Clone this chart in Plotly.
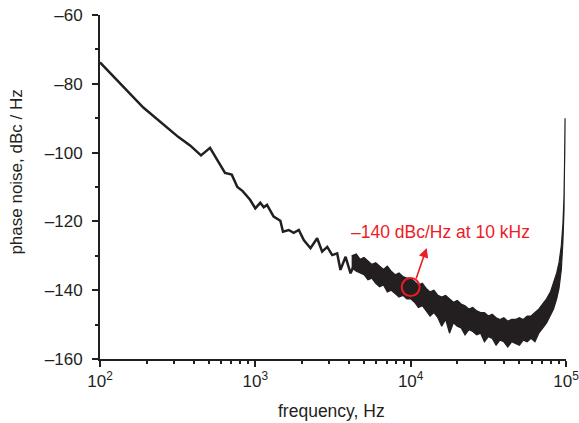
import plotly.graph_objects as go

# clean (low-frequency) part of the trace
freq_clean = [100, 190, 320, 380, 447, 511, 638, 705, 766, 829, 925, 1000, 1076, 1132,
              1189, 1312, 1449, 1507, 1641, 1766, 1905, 2051, 2265, 2500, 2692, 2904,
              3126, 3365, 3532, 3811, 4102, 4416]
pn_clean = [-73.8, -86.9, -95.5, -97.9, -100.8, -98.6, -105.9, -106.4, -110.0, -111.2,
            -113.7, -116.2, -114.6, -115.9, -115.2, -118.6, -119.8, -123.0, -122.5,
            -123.3, -122.5, -125.4, -127.8, -124.9, -128.8, -127.4, -129.8, -129.3,
            -134.1, -130.3, -135.1, -131.7]

# noisy band (upper / lower envelope) at higher offsets
freq_band = [4169, 4467, 4732, 5012, 5309, 5623, 5957, 6310, 6683, 7079, 7499, 7943,
             8414, 8913, 9441, 10000, 10593, 11220, 11885, 12589, 13335, 14125, 14962,
             15849, 16788, 17783, 18836, 19953, 21135, 22387, 23714, 25119, 26607,
             28184, 29854, 31623, 33497, 35481, 37584, 39811, 42170, 44668, 47315,
             50119, 53088, 56234, 59566, 63096, 66834, 70795, 74989, 79433, 83176,
             87096, 90157, 93325, 95499, 97051, 98175, 98628]
pn_upper = [-130.0, -129.5, -131.0, -130.5, -131.5, -132.5, -132.0, -133.0, -134.0,
            -133.0, -134.5, -135.5, -135.0, -136.0, -136.5, -136.5, -137.5, -138.5,
            -138.0, -139.5, -140.5, -140.0, -141.5, -142.0, -141.5, -142.5, -143.5,
            -143.0, -144.0, -144.5, -145.5, -145.0, -146.0, -146.5, -146.5, -147.5,
            -147.0, -148.0, -148.5, -148.0, -149.0, -148.5, -148.5, -148.0, -148.5,
            -147.5, -147.5, -146.5, -145.5, -144.0, -142.5, -140.5, -138.0, -135.0,
            -132.0, -127.0, -121.0, -113.0, -100.0, -90.0]
pn_lower = [-133.5, -134.5, -135.0, -135.5, -137.0, -136.5, -138.0, -139.0, -138.5,
            -140.5, -140.0, -141.0, -142.0, -141.5, -142.5, -142.5, -143.5, -145.0,
            -144.5, -146.0, -147.5, -146.5, -148.0, -150.5, -148.5, -152.5, -149.5,
            -150.5, -151.0, -153.0, -151.5, -152.0, -153.0, -152.5, -155.0, -153.5,
            -154.0, -156.0, -154.5, -155.0, -156.5, -155.0, -155.5, -156.0, -154.5,
            -155.0, -154.0, -155.0, -152.5, -151.0, -149.5, -147.5, -145.5, -142.5,
            -139.5, -134.0, -126.0, -117.0, -103.0, -92.0]

x_tickvals = [100, 1000, 10000, 100000]
x_ticktext = ["10<sup>2</sup>", "10<sup>3</sup>", "10<sup>4</sup>", "10<sup>5</sup>"]
x_minor = [200, 300, 400, 500, 600, 700, 800, 900,
           2000, 3000, 4000, 5000, 6000, 7000, 8000, 9000,
           20000, 30000, 40000, 50000, 60000, 70000, 80000, 90000]
y_tickvals = [-160, -140, -120, -100, -80, -60]
y_ticktext = ["\u2013160", "\u2013140", "\u2013120", "\u2013100", "\u201380", "\u201360"]
y_minor = [-150, -130, -110, -90, -70]

note_text = "\u2013140 dBc/Hz at 10 kHz"
note_freq = [10000]
note_value = [-139.1]

x_title = "frequency, Hz"
y_title = "phase noise, dBc / Hz"

INK = "#231f20"
RED = "#ed1c24"
FONT = "Liberation Sans, Arial, sans-serif"

fig = go.Figure()
fig.add_trace(go.Scatter(
    x=freq_band + freq_band[::-1], y=pn_upper + pn_lower[::-1],
    mode="lines", fill="toself", fillcolor=INK,
    line=dict(color=INK, width=1.2), hoverinfo="skip", showlegend=False))
fig.add_trace(go.Scatter(
    x=freq_clean, y=pn_clean, mode="lines",
    line=dict(color=INK, width=2.5), showlegend=False))
fig.add_trace(go.Scatter(
    x=note_freq, y=note_value, mode="markers",
    marker=dict(symbol="circle-open", size=18, color=RED, line=dict(color=RED, width=2)),
    showlegend=False))

fig.add_annotation(x=4.103, y=-127.7, xref="x", yref="y", ax=-11, ay=32,
                   showarrow=True, arrowhead=2, arrowsize=1.2, arrowwidth=1.6,
                   arrowcolor=RED, text="")
fig.add_annotation(x=4.194, y=-123.1, xref="x", yref="y", text=note_text,
                   showarrow=False, font=dict(family=FONT, size=17.5, color=RED))

fig.add_annotation(x=0.496, y=-0.151, xref="paper", yref="paper", text=x_title,
                   showarrow=False, xanchor="center", yanchor="middle",
                   font=dict(family=FONT, size=17.5, color=INK))
fig.add_annotation(x=-0.178, y=0.542, xref="paper", yref="paper", text=y_title,
                   textangle=-90, showarrow=False, xanchor="center", yanchor="middle",
                   font=dict(family=FONT, size=17, color=INK))

axis_common = dict(showline=True, linecolor=INK, linewidth=2, ticks="outside",
                   tickcolor=INK, tickwidth=2, ticklen=6, showgrid=False,
                   zeroline=False, mirror=False, automargin=False,
                   ticklabeloverflow="allow",
                   tickfont=dict(family=FONT, size=17, color=INK))

fig.update_layout(
    xaxis=dict(type="log", range=[2, 5], tickmode="array",
               tickvals=x_tickvals, ticktext=x_ticktext, **axis_common),
    yaxis=dict(range=[-160, -60], tickmode="array", ticklabelstandoff=6,
               tickvals=y_tickvals, ticktext=y_ticktext, **axis_common),
    xaxis2=dict(type="log", range=[2, 5], overlaying="x", anchor="y", side="bottom",
                tickmode="array", tickvals=x_minor, ticks="outside", ticklen=4,
                tickwidth=2, tickcolor=INK, showticklabels=False, showline=False,
                showgrid=False, zeroline=False, automargin=False),
    yaxis2=dict(range=[-160, -60], overlaying="y", anchor="x", side="left",
                tickmode="array", tickvals=y_minor, ticks="outside", ticklen=4,
                tickwidth=2, tickcolor=INK, showticklabels=False, showline=False,
                showgrid=False, zeroline=False, automargin=False),
)
# invisible trace to activate the minor-tick overlay axes
fig.add_trace(go.Scatter(x=[100], y=[-160], xaxis="x2", yaxis="y2", mode="markers",
                         marker=dict(opacity=0), hoverinfo="skip", showlegend=False))

fig.update_layout(width=579, height=423, margin=dict(l=100, r=13, t=15, b=64),
                  plot_bgcolor="white", paper_bgcolor="white",
                  font=dict(family=FONT, size=17, color=INK), showlegend=False)

# remove the page's default body margin so the figure fills the window
fig.write_html("out.html", config={"displayModeBar": False},
               post_script="document.body.style.margin='0';document.body.style.overflow='hidden';")
